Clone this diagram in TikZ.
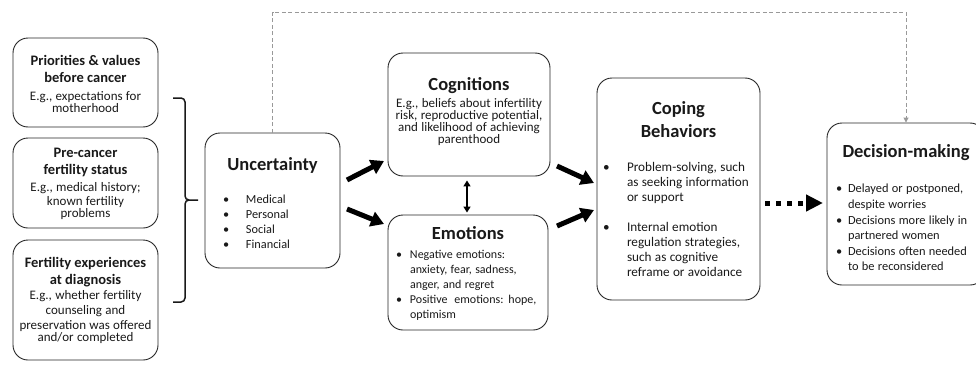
\documentclass[tikz,border=0pt]{standalone}
\usepackage{fontspec}
\setmainfont{Carlito}
\usetikzlibrary{arrows.meta,calc}
\newcommand{\ltitle}{\fontsize{14.5}{17}\selectfont\bfseries}
\newcommand{\mtitle}{\fontsize{18.5}{23}\selectfont\bfseries}
\newcommand{\bodyf}[2]{\fontsize{#1}{#2}\selectfont\mdseries}
\newcommand{\bul}[2]{\makebox[#2][l]{\hspace*{#1}\textbullet}}
\newcommand{\topspace}[1]{\hrule height 0pt\vspace{#1}}
\begin{document}
\begin{tikzpicture}[x=1pt,y=-1pt,
  box/.style={draw=black!85, line width=0.9pt, rounded corners=15pt, inner sep=0pt, align=center, text=black!90},
  bigarrow/.style={line width=5pt, -{Triangle[length=13pt,width=15pt]}},
  dotarrow/.style={line width=5pt, dash pattern=on 5pt off 6pt, -{Triangle[length=17pt,width=16pt]}},
  grayarrow/.style={draw=black!40, line width=0.9pt, dash pattern=on 4pt off 2.5pt, -{Triangle[length=5pt,width=5pt]}},
  dblarrow/.style={line width=1.8pt, {Triangle[length=6pt,width=7pt]}-{Triangle[length=6pt,width=7pt]}},
  brace/.style={line width=1.5pt, draw=black!90}]
\useasboundingbox (0,0) rectangle (976,364);

% left column
\node[box, minimum width=145pt, minimum height=89pt, text width=143pt] (prio) at (85.5,82.5)
 {\topspace{3pt}\ltitle Priorities \& values\\before cancer\par\vspace{3pt}\bodyf{13}{14.5}E.g., expectations for\\motherhood};
\node[box, minimum width=145pt, minimum height=90pt, text width=143pt] (prec) at (85.5,183)
 {\topspace{2pt}\ltitle Pre-cancer\\fertility status\par\vspace{2pt}\bodyf{13}{14.8}E.g., medical history;\\known fertility\\problems};
\node[box, minimum width=145pt, minimum height=120pt, text width=143pt] (fexp) at (85.5,300)
 {\ltitle Fertility experiences\\at diagnosis\par\vspace{1pt}\bodyf{13}{14.7}E.g., whether fertility\\counseling and\\preservation was offered\\and/or completed};

% brace
\draw[brace] (173,98) -- (181,98) to[out=0,in=90] (185,102) -- (185,196) to[out=-90,in=180] (189,200) -- (198,200);
\draw[brace] (189,200) to[out=180,in=90] (185,204) -- (185,298) to[out=-90,in=0] (181,302) -- (173,302);

% uncertainty
\node[box, minimum width=135pt, minimum height=135pt, text width=131pt] (unc) at (272.5,200.5)
 {\topspace{9pt}{\mtitle Uncertainty\par}\vspace{18pt}{\raggedright\bodyf{12.3}{15}\begin{tabular}[t]{@{}l@{}l@{}}
 \bul{16pt}{39pt}&Medical\\ \bul{16pt}{39pt}&Personal\\ \bul{16pt}{39pt}&Social\\ \bul{16pt}{39pt}&Financial
 \end{tabular}\par}};

% cognitions
\node[box, minimum width=162pt, minimum height=123pt, text width=158pt] (cog) at (469,114.5)
 {\mtitle Cognitions\par\vspace{5pt}\bodyf{13}{12.2}E.g., beliefs about infertility\\risk, reproductive potential,\\and likelihood of achieving\\parenthood\par\vspace{6pt}\hrule height 0pt};

% emotions
\node[box, minimum width=160pt, minimum height=115pt, text width=156pt] (emo) at (468,272.5)
 {\topspace{4pt}{\mtitle Emotions\par}\vspace{4pt}{\raggedright\bodyf{12}{15}\begin{tabular}[t]{@{}l@{}l@{}}
 \bul{6pt}{20pt}&Negative emotions:\\ &anxiety, fear, sadness,\\ &anger, and regret\\
 \bul{6pt}{20pt}&Positive\ \ emotions: hope,\\ &optimism
 \end{tabular}\par}};

% coping
\node[box, minimum width=163pt, minimum height=222pt, text width=159pt] (cop) at (678.5,189)
 {\topspace{5pt}{\mtitle Coping\\Behaviors\par}\vspace{19pt}{\raggedright\bodyf{13.2}{15}\begin{tabular}[t]{@{}l@{}l@{}}
 \bul{4pt}{28pt}&Problem-solving, such\\ &as seeking information\\ &or support\\[15pt]
 \bul{4pt}{28pt}&Internal emotion\\ &regulation strategies,\\ &such as cognitive\\ &reframe or avoidance
 \end{tabular}\par}};

% decision
\node[box, minimum width=158pt, minimum height=162pt, text width=154pt] (dec) at (906,204)
 {\topspace{12pt}{\mtitle Decision-making\par}\vspace{20pt}{\raggedright\bodyf{12.4}{15.6}\begin{tabular}[t]{@{}l@{}l@{}}
 \bul{7pt}{19pt}&Delayed or postponed,\\ &despite worries\\
 \bul{7pt}{19pt}&Decisions more likely in\\ &partnered women\\
 \bul{7pt}{19pt}&Decisions often needed\\ &to be reconsidered
 \end{tabular}\par}};

% connectors
\coordinate (a1s) at (347,180); \coordinate (a1e) at (384,161);
\coordinate (a2s) at (347,209); \coordinate (a2e) at (384,224);
\coordinate (a3s) at (557,166); \coordinate (a3e) at (594,183);
\coordinate (a4s) at (557,226); \coordinate (a4e) at (594,210);
\coordinate (ds) at (765,203); \coordinate (de) at (823,203);
\draw[bigarrow] (a1s) -- (a1e);
\draw[bigarrow] (a2s) -- (a2e);
\draw[bigarrow] (a3s) -- (a3e);
\draw[bigarrow] (a4s) -- (a4e);
\draw[dotarrow] (ds) -- (de);
\draw[dblarrow] ([xshift=-2pt,yshift=-4pt]cog.south) -- ([xshift=-1pt,yshift=2pt]emo.north);
\draw[grayarrow] (unc.north) -- (unc.north |- 0,12) -| (dec.north);
\end{tikzpicture}
\end{document}
